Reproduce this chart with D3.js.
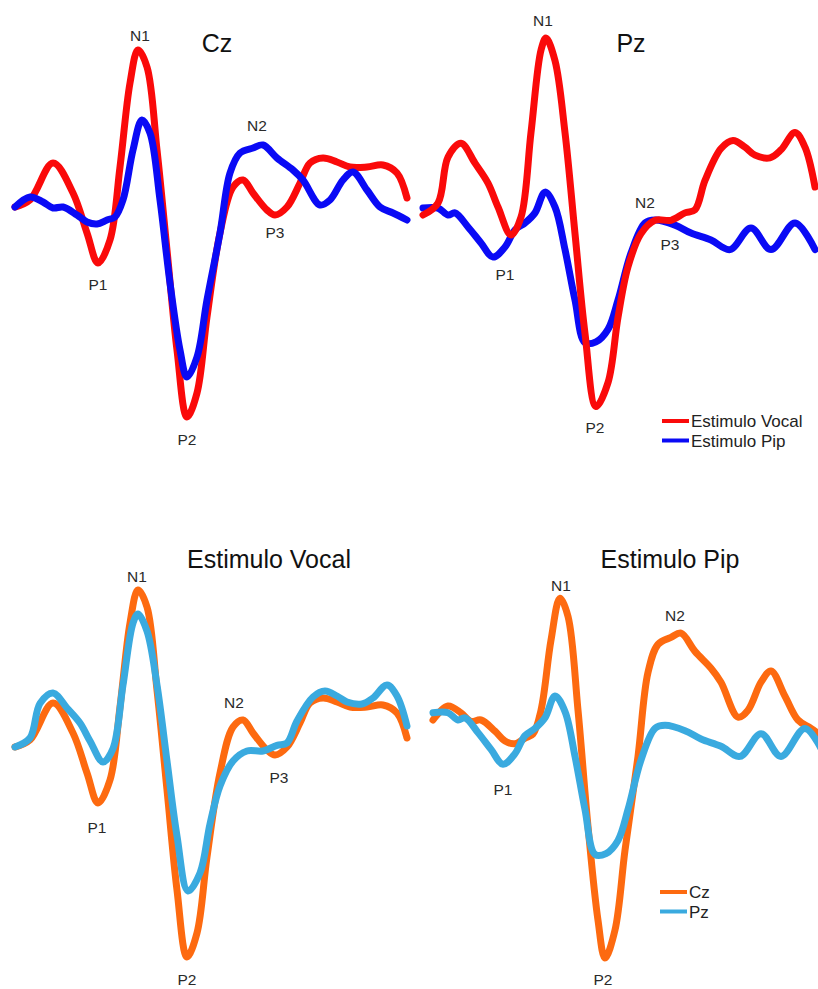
<!DOCTYPE html>
<html>
<head>
<meta charset="utf-8">
<script src="https://cdn.jsdelivr.net/npm/d3@7"></script>
<style>
  html, body { margin: 0; padding: 0; background: #ffffff; }
  svg { display: block; }
  text { font-family: Arial, "Liberation Sans", sans-serif; }
</style>
</head>
<body>
<div id="chart"></div>
<script>
// ---------- DATA (time in ms, amplitude in µV) ----------
const electrodes = ["Cz", "Pz"];
const stimuli = ["Estimulo Vocal", "Estimulo Pip"];
const peakNames = ["N1", "P1", "P2", "N2", "P3"];

const czVocalT = [-150,-120,-74,-34,-6,16,40,60,80,96,114,134,154,174,194,214,234,260,286,306,326,354,370,394,420,440,466,494,520,554,586,614,634];
const czVocalV = [0,0.35,2.2,0.7,-1.3,-2.8,-1.65,2.0,6.2,7.85,7.0,2.85,-2.15,-7.15,-10.5,-9.3,-5.5,-1.3,1.0,1.35,0.7,-0.15,-0.4,0,1.2,2.2,2.45,2.25,2.0,2.0,2.1,1.7,0.45];

const czPipT = [-150,-120,-94,-74,-54,-26,-6,14,34,50,66,86,104,120,140,160,180,194,214,234,260,280,300,326,346,374,406,426,460,480,506,526,554,580,606,634];
const czPipV = [0,0.5,0.25,-0.05,0,-0.4,-0.75,-0.85,-0.65,-0.5,0.35,2.85,4.35,3.7,0.35,-3.8,-7.15,-8.5,-7.5,-4.65,-1.3,1.7,2.7,2.95,3.1,2.45,1.85,1.35,0.1,0.35,1.35,1.75,0.85,0,-0.3,-0.65];

const pzVocalT = [-150,-120,-100,-74,-46,-20,0,26,46,66,86,96,114,134,154,174,196,220,240,260,286,314,346,374,394,414,446,470,494,514,544,566,594,614,634];
const pzVocalV = [0,0.45,2.18,2.7,1.95,1.2,0.3,-0.75,-0.08,3.1,6.2,6.65,5.8,3.1,-0.7,-4.45,-7.2,-6.3,-3.85,-1.95,-0.7,-0.2,-0.2,0.08,0.2,1.3,2.5,2.8,2.55,2.25,2.15,2.45,3.1,2.55,1.05];

const pzPipT = [-150,-120,-100,-86,-60,-34,-10,14,34,54,74,94,114,134,154,174,196,220,240,266,294,314,354,386,426,464,506,546,594,634];
const pzPipV = [0.26,0.26,0,0.08,-0.45,-1.05,-1.58,-1.2,-0.56,-0.3,0.08,0.86,0.3,-1.3,-3.2,-4.8,-4.77,-4.3,-3.2,-1.43,-0.3,-0.19,-0.38,-0.68,-0.94,-1.3,-0.49,-1.3,-0.3,-1.3];

const toPts = (T, V) => T.map((t, i) => ({t, v: V[i]}));
const series = {
  czVocal: toPts(czVocalT, czVocalV),
  czPip: toPts(czPipT, czPipV),
  pzVocal: toPts(pzVocalT, pzVocalV),
  pzPip: toPts(pzPipT, pzPipV)
};

// ---------- LAYOUT ----------
const W = 818, H = 989;
const RED = "#fa0a0a", BLUE = "#0a0af5", ORANGE = "#fd6a10", CYAN = "#3aaadf";

const panels = [
  { title: electrodes[0], tx: 217, ty: 52, xoff: 0, zero: 207, k: 20,
    lines: [{s: "czVocal", c: RED}, {s: "czPip", c: BLUE}],
    labels: [["N1",140,41],["P1",98,290],["P2",187,445],["N2",257,131],["P3",275,238]] },
  { title: electrodes[1], tx: 631, ty: 52, xoff: 408, zero: 215, k: 26.6,
    lines: [{s: "pzPip", c: BLUE}, {s: "pzVocal", c: RED}],
    labels: [["N1",543,26],["P1",505,280],["P2",595,433],["N2",645,208],["P3",670,250]],
    legend: {x: 662, y: 421, items: [[stimuli[0], RED], [stimuli[1], BLUE]]} },
  { title: stimuli[0], tx: 269, ty: 568, xoff: 0, zero: 747, k: 20,
    lines: [{s: "czVocal", c: ORANGE}, {s: "pzVocal", c: CYAN}],
    labels: [["N1",137,582],["P1",97,833],["P2",187,985],["N2",234,708],["P3",279,783]] },
  { title: stimuli[1], tx: 670, ty: 568, xoff: 418, zero: 720, k: 28,
    lines: [{s: "czPip", c: ORANGE}, {s: "pzPip", c: CYAN}],
    labels: [["N1",561,591],["P1",503,795],["P2",603,985],["N2",675,621]],
    legend: {x: 660, y: 892, items: [[electrodes[0], ORANGE], [electrodes[1], CYAN]]} }
];

const svg = d3.select("#chart").append("svg")
  .attr("width", W).attr("height", H)
  .attr("viewBox", `0 0 ${W} ${H}`);
svg.append("rect").attr("width", W).attr("height", H).attr("fill", "#ffffff");

panels.forEach(p => {
  const x = d3.scaleLinear().domain([-150, 650]).range([15 + p.xoff, 415 + p.xoff]);
  const y = d3.scaleLinear().domain([-1, 1]).range([p.zero + p.k, p.zero - p.k]);
  const line = d3.line().x(d => x(d.t)).y(d => y(d.v)).curve(d3.curveCatmullRom.alpha(0.5));
  const g = svg.append("g");

  p.lines.forEach(L => {
    g.append("path").datum(series[L.s])
      .attr("d", line)
      .attr("fill", "none")
      .attr("stroke", L.c)
      .attr("stroke-width", 7)
      .attr("stroke-linejoin", "round")
      .attr("stroke-linecap", "round");
  });

  g.append("text").attr("x", p.tx).attr("y", p.ty)
    .attr("text-anchor", "middle").attr("font-size", 25).attr("fill", "#111")
    .text(p.title);

  p.labels.forEach(([name, lx, ly]) => {
    g.append("text").attr("x", lx).attr("y", ly)
      .attr("text-anchor", "middle").attr("font-size", 15.5).attr("fill", "#2a2a2a")
      .text(name);
  });

  if (p.legend) {
    p.legend.items.forEach(([name, col], i) => {
      const ly = p.legend.y + i * 19.5;
      g.append("line").attr("x1", p.legend.x).attr("x2", p.legend.x + 27)
        .attr("y1", ly).attr("y2", ly)
        .attr("stroke", col).attr("stroke-width", 4);
      g.append("text").attr("x", p.legend.x + 29).attr("y", ly + 6)
        .attr("font-size", 17).attr("fill", "#222").text(name);
    });
  }
});
</script>
</body>
</html>
